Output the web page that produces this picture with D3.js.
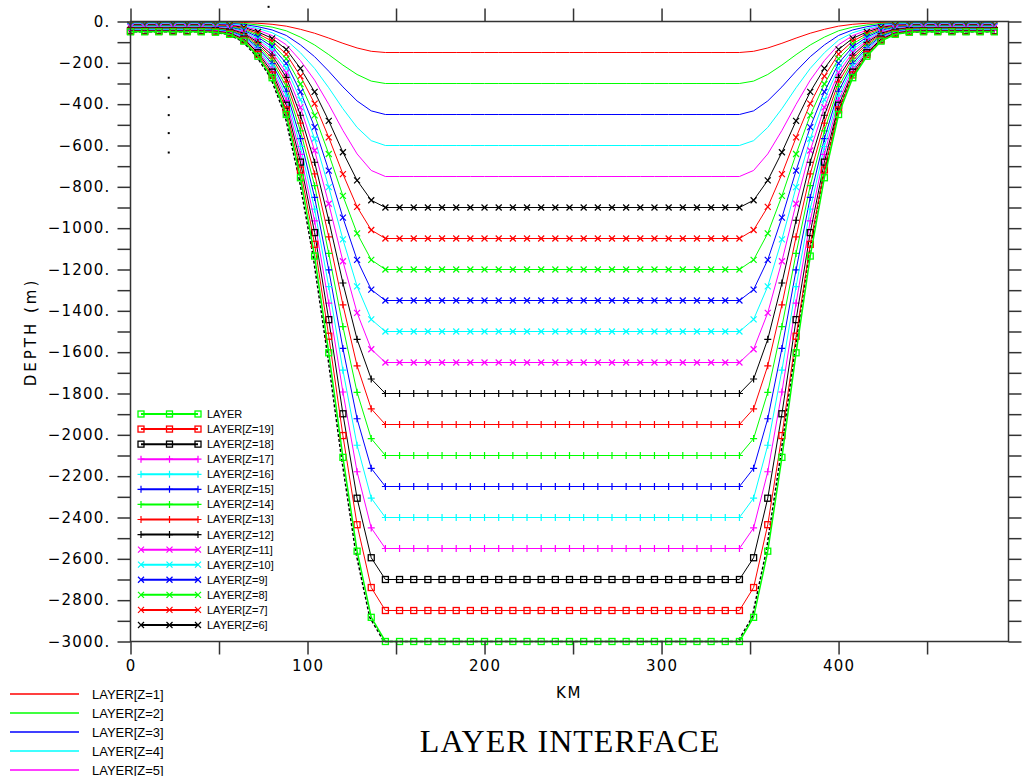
<!DOCTYPE html>
<html>
<head>
<meta charset="utf-8">
<script src="https://cdn.jsdelivr.net/npm/d3@7"></script>
<style>
  body { margin: 0; background: #fff; }
</style>
</head>
<body>
<script>
// data
// grid positions (km)
const xKm = [0, 8, 16, 24, 32, 40, 48, 56, 64, 72, 80, 88, 96, 104, 112, 120, 128, 136, 144,
  152, 160, 168, 176, 184, 192, 200, 208, 216, 224, 232, 240, 248, 256, 264, 272, 280, 288, 296,
  304, 312, 320, 328, 336, 344, 352, 360, 368, 376, 384, 392, 400, 408, 416, 424, 432, 440,
  448, 456, 464, 472, 480, 488]
// bottom depth read along the green (LAYER) curve, m
const bottomDepth = [50, 50, 50, 50, 50, 50, 52, 62, 95, 168, 272, 450, 756, 1135, 1603, 2109, 2563, 2883, 3000,
  3000, 3000, 3000, 3000, 3000, 3000, 3000, 3000, 3000, 3000, 3000, 3000, 3000, 3000, 3000, 3000, 3000, 3000, 3000,
  3000, 3000, 3000, 3000, 3000, 3000, 2883, 2563, 2109, 1603, 1135, 756, 450, 272, 168, 95,
  62, 52, 50, 50, 50, 50, 50, 50]
// depth of each interface on the flat part, m (Z=1 .. Z=20)
const interiorDepth = [150, 300, 450, 600, 750, 900, 1050, 1200, 1350, 1500,
  1650, 1800, 1950, 2100, 2250, 2400, 2550, 2700, 2850, 3000]
const layerNames = ['LAYER[Z=1]', 'LAYER[Z=2]', 'LAYER[Z=3]', 'LAYER[Z=4]', 'LAYER[Z=5]',
  'LAYER[Z=6]', 'LAYER[Z=7]', 'LAYER[Z=8]', 'LAYER[Z=9]', 'LAYER[Z=10]', 'LAYER[Z=11]',
  'LAYER[Z=12]', 'LAYER[Z=13]', 'LAYER[Z=14]', 'LAYER[Z=15]', 'LAYER[Z=16]', 'LAYER[Z=17]',
  'LAYER[Z=18]', 'LAYER[Z=19]', 'LAYER']
const yMajor = [0, -200, -400, -600, -800, -1000, -1200, -1400, -1600, -1800, -2000,
  -2200, -2400, -2600, -2800, -3000]
const xLabels = [0, 100, 200, 300, 400]
// stray dots in the picture (km, m)
const strayDots = [[78, 71], [21.6, -272], [21.6, -366], [21.6, -453], [21.6, -540], [21.6, -634]]

// styles
const colorCycle = ['#ff0000', '#00ff00', '#0000ff', '#00ffff', '#ff00ff', '#000000']
const markerOf = i => i < 5 ? null : i < 11 ? 'x' : i < 17 ? '+' : 'sq'

const width = 1027
const height = 776

const svg = d3.select('body')
  .append('svg')
  .attr('width', width)
  .attr('height', height)
  .style('font-family', 'DejaVu Sans, sans-serif')

const x = d3.scaleLinear().domain([0, 496]).range([130.5, 1008.5])
const y = d3.scaleLinear().domain([0, -3000]).range([21.5, 641.5])

const series = interiorDepth.map((d, k) =>
  xKm.map((xv, i) => [xv, -d * bottomDepth[i] / 3000]))

const line = d3.line().x(d => x(d[0])).y(d => y(d[1]))

function marker(g, type, color, cx, cy) {
  if (type === 'x') {
    g.append('path').attr('d', `M${cx - 3},${cy - 3}L${cx + 3},${cy + 3}M${cx - 3},${cy + 3}L${cx + 3},${cy - 3}`)
      .attr('stroke', color).attr('stroke-width', 1.2)
  } else if (type === '+') {
    g.append('path').attr('d', `M${cx - 3.5},${cy}L${cx + 3.5},${cy}M${cx},${cy - 3.5}L${cx},${cy + 3.5}`)
      .attr('stroke', color).attr('stroke-width', 1.2)
  } else if (type === 'sq') {
    g.append('rect').attr('x', cx - 3).attr('y', cy - 3).attr('width', 6).attr('height', 6)
      .attr('fill', 'none').attr('stroke', color).attr('stroke-width', 1.3)
  }
}

// black dashed line along the bottom
svg.append('path')
  .datum(series[19])
  .attr('d', line)
  .attr('transform', 'translate(-1.5,0)')
  .attr('fill', 'none')
  .attr('stroke', '#000')
  .attr('stroke-width', 1.5)
  .attr('stroke-dasharray', '3,2')

// curves
series.forEach((s, k) => {
  const c = colorCycle[k % 6]
  const g = svg.append('g')
  g.append('path').datum(s).attr('d', line)
    .attr('fill', 'none').attr('stroke', c).attr('stroke-width', k === 19 ? 1.5 : 1)
  const m = markerOf(k)
  if (m) s.forEach(d => marker(g, m, c, x(d[0]), y(d[1])))
})

// axes
const axisColor = '#333'
svg.append('rect')
  .attr('x', x(0)).attr('y', y(0))
  .attr('width', x(496) - x(0)).attr('height', y(-3000) - y(0))
  .attr('fill', 'none').attr('stroke', axisColor).attr('stroke-width', 1.5)

const yAll = d3.range(0, -3001, -100)
const xAll = d3.range(0, 451, 50)

svg.append('g')
  .attr('transform', `translate(${x(0)},0)`)
  .call(d3.axisLeft(y).tickValues(yAll).tickSize(13).tickFormat(''))
  .call(g => g.select('.domain').remove())
svg.append('g')
  .attr('transform', `translate(${x(0)},0)`)
  .call(d3.axisLeft(y).tickValues(yMajor).tickSize(13).tickPadding(7)
    .tickFormat(d => d === 0 ? '0.' : '\u2212' + Math.abs(d) + '.'))
  .call(g => g.select('.domain').remove())
  .call(g => g.selectAll('line').remove())
svg.append('g')
  .attr('transform', `translate(${x(496)},0)`)
  .call(d3.axisRight(y).tickValues(yAll).tickSize(13).tickFormat(''))
  .call(g => g.select('.domain').remove())
svg.append('g')
  .attr('transform', `translate(0,${y(0)})`)
  .call(d3.axisTop(x).tickValues(xAll).tickSize(13).tickFormat(''))
  .call(g => g.select('.domain').remove())
svg.append('g')
  .attr('transform', `translate(0,${y(-3000)})`)
  .call(d3.axisBottom(x).tickValues(xAll).tickSize(13).tickFormat(''))
  .call(g => g.select('.domain').remove())
svg.append('g')
  .attr('transform', `translate(0,${y(-3000)})`)
  .call(d3.axisBottom(x).tickValues(xLabels).tickSize(13).tickPadding(6))
  .call(g => g.select('.domain').remove())
  .call(g => g.selectAll('line').remove())

svg.selectAll('.tick line').attr('stroke', axisColor).attr('stroke-width', 1.5)
svg.selectAll('.tick text')
  .attr('font-family', null)
  .style('font-family', 'DejaVu Sans, sans-serif')
  .style('font-size', '15px')
  .attr('letter-spacing', 1.2)
  .attr('fill', '#000')

// axis titles
svg.append('text')
  .attr('x', 569).attr('y', 698)
  .attr('text-anchor', 'middle')
  .style('font-size', '15px')
  .attr('letter-spacing', 1.5)
  .text('KM')
svg.append('text')
  .attr('transform', 'translate(36,332) rotate(-90)')
  .attr('text-anchor', 'middle')
  .style('font-size', '15px')
  .attr('letter-spacing', 3)
  .text('DEPTH (m)')

// stray dots
svg.selectAll('.dot')
  .data(strayDots)
  .join('rect')
  .attr('x', d => x(d[0]) - 1).attr('y', d => y(d[1]) - 1)
  .attr('width', 2).attr('height', 2).attr('fill', '#000')

// legend inside the plot (Z=20 .. Z=6)
const legIn = svg.append('g')
d3.range(19, 4, -1).forEach((k, row) => {
  const c = colorCycle[k % 6]
  const ly = 414 + row * 15.07
  legIn.append('line').attr('x1', 141).attr('x2', 198).attr('y1', ly).attr('y2', ly)
    .attr('stroke', c).attr('stroke-width', 2)
  const m = markerOf(k)
  ;[141, 169.5, 198].forEach(mx => marker(legIn, m, c, mx, ly))
  legIn.append('text').attr('x', 207).attr('y', ly + 4)
    .style('font-family', 'Liberation Sans, Arial, sans-serif').style('font-size', '11px')
    .text(layerNames[k])
})

// legend below (Z=1 .. Z=5)
const legOut = svg.append('g')
d3.range(0, 5).forEach(k => {
  const ly = 694 + k * 19
  legOut.append('line').attr('x1', 10).attr('x2', 79).attr('y1', ly).attr('y2', ly)
    .attr('stroke', colorCycle[k]).attr('stroke-width', 1.5)
  legOut.append('text').attr('x', 92).attr('y', ly + 4.5)
    .style('font-family', 'Liberation Sans, Arial, sans-serif').style('font-size', '13px')
    .text(layerNames[k])
})

// title
svg.append('text')
  .attr('x', 570).attr('y', 752)
  .attr('text-anchor', 'middle')
  .style('font-family', 'Liberation Serif, Times New Roman, serif')
  .style('font-size', '32px')
  .attr('letter-spacing', 1)
  .text('LAYER INTERFACE')
</script>
</body>
</html>
